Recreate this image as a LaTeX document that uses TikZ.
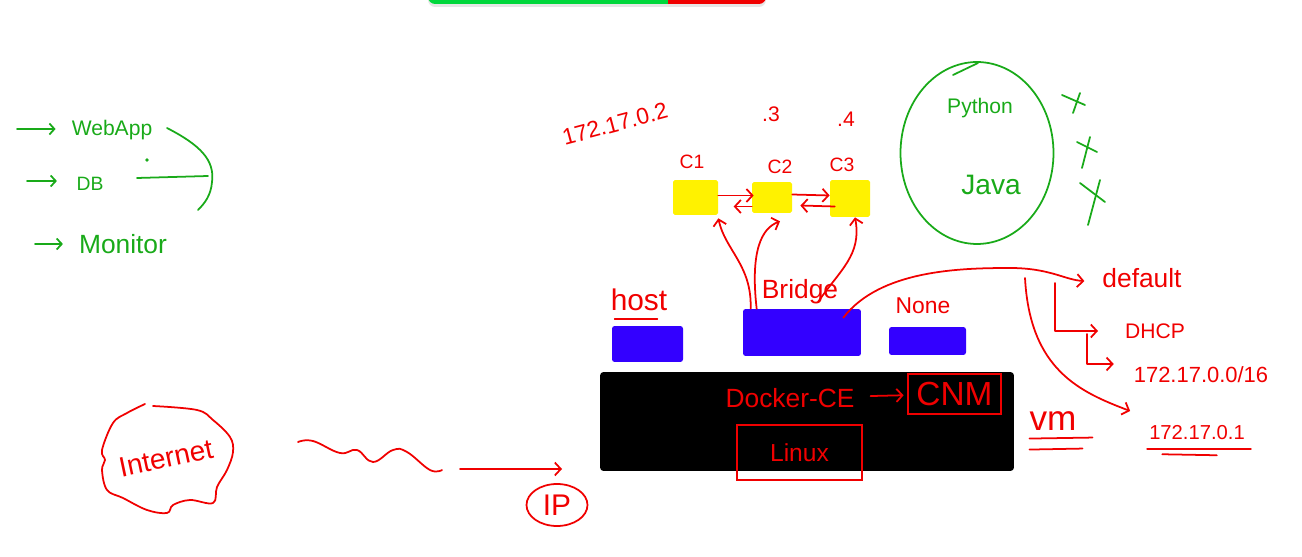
\documentclass[tikz,border=0pt]{standalone}
\usepackage{fontspec}
\setmainfont{Liberation Sans}
\usetikzlibrary{arrows.meta, positioning, shapes.geometric, shadows}

\definecolor{inkred}{RGB}{240,0,0}
\definecolor{inkgreen}{RGB}{25,170,25}
\definecolor{netblue}{RGB}{51,0,255}
\definecolor{bargreen}{RGB}{0,215,60}
\definecolor{barred}{RGB}{240,0,0}
\newcommand{\pensize}[1]{\fontsize{#1}{#1}\selectfont}

\begin{document}
\begin{tikzpicture}[x=0.02cm, y=-0.02cm,
    redline/.style={draw=inkred, line width=1pt, line cap=round, line join=round},
    redarrow/.style={redline, -{Straight Barb[length=1.2mm, width=2.6mm]}},
    greenline/.style={draw=inkgreen, line width=1pt, line cap=round, line join=round},
    greenarrow/.style={greenline, -{Straight Barb[length=1mm, width=2.2mm]}},
    cbox/.style={fill=yellow, inner sep=0pt, rounded corners=1pt},
    netbox/.style={fill=netblue, inner sep=0pt, rounded corners=1.5pt},
    rtext/.style={text=inkred, inner sep=1pt},
    gtext/.style={text=inkgreen, inner sep=1pt}]

    \useasboundingbox (0,0) rectangle (1302,557);

    % colour bar at the top
    \fill[white, rounded corners=4pt, drop shadow={opacity=0.2, shadow xshift=0mm, shadow yshift=-0.6mm}] (428,-10) rectangle (766,4);
    \begin{scope}
        \clip[rounded corners=4pt] (428,-10) rectangle (766,4);
        \fill[bargreen] (428,-10) rectangle (668,4);
        \fill[barred] (668,-10) rectangle (766,4);
    \end{scope}

    % apps on the left
    \node[gtext, font=\pensize{12}] (webapp) at (112,130) {WebApp};
    \node[gtext, font=\pensize{11}] (db) at (90,184) {DB};
    \node[gtext, font=\pensize{15}] (monitor) at (123,244) {Monitor};
    \coordinate (wa0) at (17,129);
    \coordinate (db0) at (27,181);
    \coordinate (mo0) at (35,244);
    \draw[greenarrow, shorten >=8pt] (wa0) -- (wa0 -| webapp.west);
    \draw[greenarrow, shorten >=10pt] (db0) -- (db0 -| db.west);
    \draw[greenarrow, shorten >=8pt] (mo0) -- (mo0 -| monitor.west);
    \draw[greenline] (167,128) .. controls (200,145) and (215,160) .. (212,182) .. controls (211,195) and (205,203) .. (198,210);
    \draw[greenline] (137,178) -- (208,176);
    \fill[inkgreen] (147,160) circle (1pt);

    % containers
    \node[rtext, font=\pensize{13}, rotate=15] (ipc1) at (615,124) {172.17.0.2};
    \node[rtext, font=\pensize{12}] (ipc2) at (771,114) {.3};
    \node[rtext, font=\pensize{12}] (ipc3) at (846,119) {.4};
    \node[rtext, font=\pensize{11}] (lc1) at (692,162) {C1};
    \node[rtext, font=\pensize{11}] (lc2) at (780,167) {C2};
    \node[rtext, font=\pensize{11}] (lc3) at (842,165) {C3};
    \node[cbox, minimum width=0.9cm, minimum height=0.7cm] (c1) at (695.5,197.5) {};
    \node[cbox, minimum width=0.8cm, minimum height=0.62cm] (c2) at (772,197.5) {};
    \node[cbox, minimum width=0.8cm, minimum height=0.74cm] (c3) at (850,198.5) {};
    \draw[redarrow] ([shift={(0,-2)}]c1.east) -- ([shift={(2,-2)}]c2.west);
    \draw[redarrow] ([shift={(0,9)}]c2.west) -- ++(-18,0);
    \draw[redarrow] ([shift={(0,-3)}]c2.east) -- ([shift={(0,-3)}]c3.west);
    \draw[redarrow] ([shift={(5,8)}]c3.west) -- ([shift={(8,8)}]c2.east);

    % network drivers
    \node[netbox, minimum width=1.42cm, minimum height=0.72cm] (host) at (647.5,344) {};
    \node[netbox, minimum width=2.36cm, minimum height=0.94cm] (bridge) at (802,332.5) {};
    \node[netbox, minimum width=1.54cm, minimum height=0.56cm] (none) at (927.5,341) {};
    \node[rtext, font=\pensize{17}] (hostlabel) at (639,300) {host};
    \node[rtext, font=\pensize{15}] (bridgelabel) at (800,292) {Bridge};
    \node[rtext, font=\pensize{13}] (nonelabel) at (923,306) {None};
    \draw[redline] ([shift={(6,6)}]hostlabel.south west) -- ([shift={(-12,6)}]hostlabel.south east);
    \draw[redarrow] ([shift={(8,0)}]bridge.north west) .. controls (752,265) and (725,250) .. ([shift={(0,3)}]c1.south east);
    \draw[redarrow] ([shift={(14,0)}]bridge.north west) .. controls (750,250) and (762,228) .. ([shift={(8,8)}]c2.south);
    \draw[redarrow] (818,302) .. controls (840,270) and (862,255) .. ([shift={(5,0)}]c3.south);

    % docker engine
    \node[fill=black, inner sep=0pt, rounded corners=2pt, minimum width=8.28cm, minimum height=1.98cm] (host os) at (807,421.5) {};
    \node[rtext, font=\pensize{15}] (docker) at (790,398) {Docker-CE};
    \node[rtext, draw=inkred, line width=1pt, font=\pensize{19}, minimum width=1.86cm, minimum height=0.8cm] (cnm) at (954.5,394) {CNM};
    \node[rtext, draw=inkred, line width=1pt, font=\pensize{14}, minimum width=2.5cm, minimum height=1.1cm] (linux) at (799.5,452.5) {Linux};
    \draw[redarrow, shorten <=8pt, shorten >=2pt] (docker) -- (cnm);

    % default bridge settings
    \node[rtext, font=\pensize{15}] (default) at (1142,278) {default};
    \node[rtext, font=\pensize{12}] (dhcp) at (1155,331) {DHCP};
    \node[rtext, font=\pensize{12.5}] (subnet) at (1201,375) {172.17.0.0/16};
    \node[rtext, font=\pensize{11.5}] (gateway) at (1197,433) {172.17.0.1};
    \node[rtext, font=\pensize{20}] (vm) at (1053,421) {vm};
    \coordinate (splitA) at (1055,283);
    \coordinate (splitB) at (1087,334);
    \coordinate (splitC) at (1025,278);
    \draw[redarrow] ([shift={(-18,9)}]bridge.north east) .. controls (880,270) and (960,268) .. (1010,268) .. controls (1050,268) and (1065,280) .. ([shift={(-16,3)}]default.west);
    \draw[redarrow] (splitA) |- ([shift={(-25,0)}]dhcp.west);
    \draw[redarrow] (splitB) |- ([shift={(-18,-11)}]subnet.west);
    \draw[redarrow] (splitC) .. controls (1030,370) and (1080,392) .. ([shift={(-17,-22)}]gateway.west);
    \draw[redline] ([shift={(0,7)}]gateway.south west) -- ([shift={(4,7)}]gateway.south east);
    \draw[redline] ([shift={(15,12)}]gateway.south west) -- ([shift={(-30,13)}]gateway.south east);
    \draw[redline] ([shift={(2,6)}]vm.south west) -- ([shift={(14,5)}]vm.south east);
    \draw[redline] ([shift={(2,17)}]vm.south west) -- ([shift={(4,16)}]vm.south east);

    % languages
    \node[gtext, font=\pensize{12}] (python) at (980,108) {Python};
    \node[gtext, font=\pensize{16}] (java) at (991,185) {Java};
    \draw[greenline] (977,153) ellipse [x radius=1.53cm, y radius=1.82cm];
    \draw[greenline] (953,75) -- (978,63);
    \draw[greenline] (1062,95) -- (1085,105);
    \draw[greenline] (1080,93) -- (1073,113);
    \draw[greenline] (1077,142) -- (1097,152);
    \draw[greenline] (1090,137) -- (1082,168);
    \draw[greenline] (1080,183) -- (1105,202);
    \draw[greenline] (1100,180) -- (1088,225);

    % internet
    \node[rtext, font=\pensize{16}, rotate=12] (internet) at (166,458) {Internet};
    \draw[redline] plot[smooth, tension=0.6] coordinates {(153,406) (197,410) (213,420) (230,437) (233,452) (227,470) (217,487) (213,503) (190,500) (173,505) (167,513) (147,510) (123,498) (107,490) (102,470) (105,460) (102,450) (113,423) (127,413) (145,404)};
    \draw[redline] plot[smooth, tension=0.7] coordinates {(298,442) (313,441) (340,453) (357,450) (373,462) (393,450) (407,452) (430,470) (442,470)};
    \coordinate (ipfrom) at (460,469);
    \coordinate (ipto) at (562,469);
    \draw[redarrow] (ipfrom) -- (ipto);
    \node[rtext, draw=inkred, line width=1pt, ellipse, font=\pensize{17}, minimum width=1.22cm, minimum height=0.84cm] (ip) at (557,505) {IP};
\end{tikzpicture}
\end{document}
